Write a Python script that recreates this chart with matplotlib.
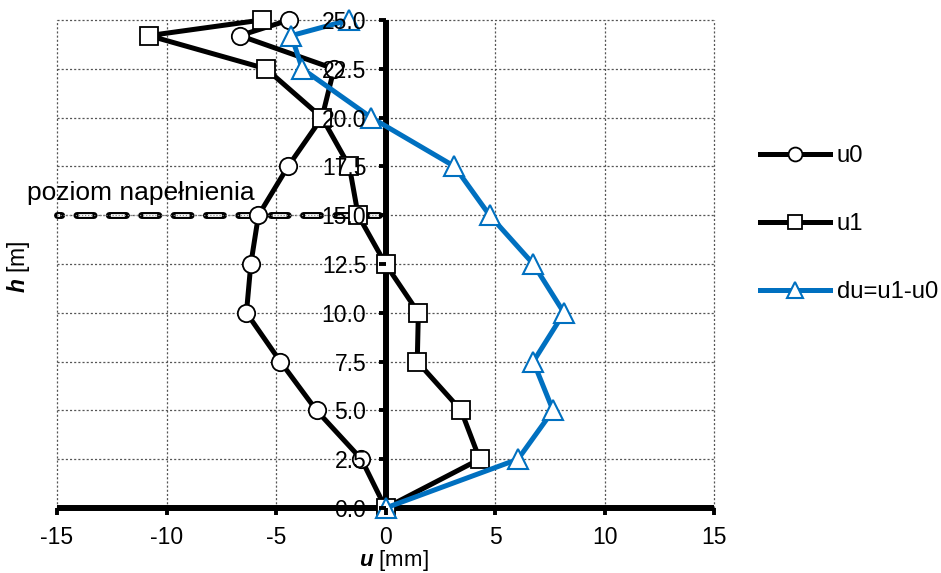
import matplotlib
matplotlib.use("Agg")
import matplotlib.pyplot as plt
import numpy as np

plt.rcParams['font.family'] = ['Liberation Sans', 'DejaVu Sans']
plt.rcParams['axes.unicode_minus'] = False
plt.rcParams['lines.scale_dashes'] = False
plt.rcParams['mathtext.fontset'] = 'custom'
plt.rcParams['mathtext.rm'] = 'Liberation Sans'
plt.rcParams['mathtext.it'] = 'Liberation Sans:italic'
plt.rcParams['mathtext.bf'] = 'Liberation Sans:bold'
plt.rcParams['mathtext.bfit'] = 'Liberation Sans:bold:italic'

# data
h = [0.0, 2.5, 5.0, 7.5, 10.0, 12.5, 15.0, 17.5, 20.0, 22.5, 24.2, 25.0]
u0 = [0.0, -1.1, -3.15, -4.8, -6.35, -6.15, -5.8, -4.45, -2.9, -2.35, -6.65, -4.4]
u1 = [0.0, 4.3, 3.45, 1.45, 1.5, 0.0, -1.25, -1.65, -2.9, -5.45, -10.8, -5.65]
du = [0.0, 6.05, 7.65, 6.75, 8.15, 6.75, 4.75, 3.15, -0.65, -3.8, -4.3, -1.65]
fill_level = 15.0
fill_label = "poziom napełnienia"
x_ticks = [-15, -10, -5, 0, 5, 10, 15]
y_ticks = [0.0, 2.5, 5.0, 7.5, 10.0, 12.5, 15.0, 17.5, 20.0, 22.5, 25.0]

FS = 16.5
BLUE = '#0070C0'

fig = plt.figure(figsize=(9.41, 5.73), dpi=100)
ax = fig.add_axes([57/941, 65/573, 657/941, 488/573])
ax.set_xlim(-15, 15)
ax.set_ylim(0, 25)

# grid (manual, below data)
for xv in x_ticks:
    ax.axvline(xv, color='#555555', lw=0.9, ls=(0, (1.5, 1.5)), zorder=0.5, clip_on=False)
for yv in y_ticks:
    ax.axhline(yv, color='#555555', lw=0.9, ls=(0, (1.5, 1.5)), zorder=0.5, clip_on=False)

# fill level line
fx = [-15, -0.3]
fy = [fill_level, fill_level]
ax.plot(fx, fy, color='#777777', lw=0.8, ls=(0, (1.0, 1.2)), zorder=1.1, clip_on=False)
ax.plot(fx, fy, color='black', lw=5.0, ls=(9.3, (12.3, 11.0)),
        dash_capstyle='round', zorder=1.2, clip_on=False)
ax.plot(fx, fy, color='white', lw=2.0, ls=(8.15, (10.0, 13.3)),
        dash_capstyle='butt', zorder=1.3, clip_on=False)
ax.plot(fx, fy, color='#888888', lw=0.8, ls=(0, (0.9, 1.3)), zorder=1.35, clip_on=False)
ax.text(-16.35, 15.78, fill_label, fontsize=19, ha='left', va='baseline',
        clip_on=False, zorder=3)

# series
ax.plot(u0, h, color='black', lw=3.6, marker='o', ms=12.5, mfc='white', mec='black',
        mew=1.3, label='u0', zorder=2.2, clip_on=False)
ax.plot(u1, h, color='black', lw=3.6, marker='s', ms=12.5, mfc='white', mec='black',
        mew=1.3, label='u1', zorder=2.3, clip_on=False)
ax.plot(du, h, color=BLUE, lw=3.6, marker='^', ms=14, mfc='white', mec=BLUE,
        mew=1.5, label='du=u1-u0', zorder=2.4, clip_on=False)

# spines
for s in ['top', 'right']:
    ax.spines[s].set_visible(False)
ax.spines['left'].set_position(('data', 0))
ax.spines['bottom'].set_position(('data', 0))
for s in ['left', 'bottom']:
    ax.spines[s].set_linewidth(4.3)
    ax.spines[s].set_zorder(1.8)
    ax.spines[s].set_capstyle('butt')

ax.set_axisbelow(False)
ax.xaxis.set_zorder(2.6)
ax.yaxis.set_zorder(2.6)
ax.set_xticks(x_ticks)
ax.set_xticklabels([str(v) for v in x_ticks])
ax.set_yticks(y_ticks)
ax.set_yticklabels([f"{v:.1f}" for v in y_ticks])
ax.tick_params(axis='both', direction='out', length=5, width=2.8, labelsize=FS)
ax.tick_params(axis='x', pad=8.0)
ax.tick_params(axis='y', pad=8.8)

ax.set_xlabel(r"$\mathbfit{u}$ [mm]", fontsize=16)
ax.xaxis.set_label_coords(0.513, -0.081)
ax.set_ylabel(r"$\mathbfit{h}$ [m]", fontsize=FS)
ax.yaxis.set_label_coords(-0.038, 0.494)

fig.legend(loc='upper left', bbox_to_anchor=(760/941, 1 - 145/573), frameon=False,
           fontsize=17.2, handlelength=2.93, handletextpad=0.29, labelspacing=1.93,
           borderpad=0, borderaxespad=0, markerscale=0.8)

fig.savefig('out.png', dpi=100)
